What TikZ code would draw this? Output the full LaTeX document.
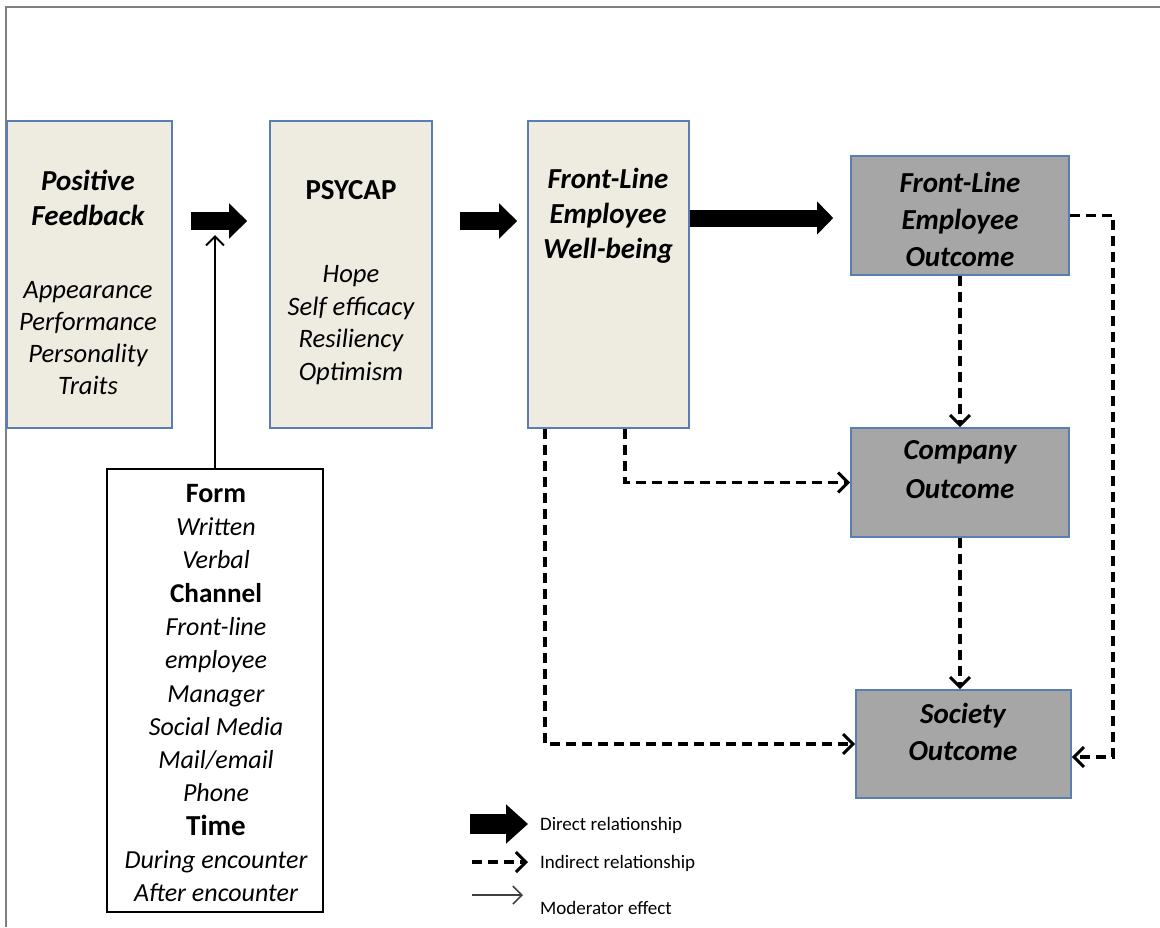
\documentclass[tikz,border=0pt]{standalone}
\usepackage{fontspec}
\setmainfont{Carlito}
\usetikzlibrary{arrows.meta,fit,calc}
\definecolor{boxfill}{HTML}{EEECE1}
\definecolor{boxline}{HTML}{5A7EB4}
\definecolor{outfill}{HTML}{A6A6A6}

\begin{document}
\begin{tikzpicture}[x=0.5pt,y=-0.5pt,
  inbox/.style={draw=boxline,fill=boxfill,line width=0.8pt,inner sep=0pt},
  outbox/.style={draw=boxline,fill=outfill,line width=0.8pt,inner sep=0pt},
  title/.style={align=center,font=\fontsize{14.5}{17.5}\selectfont\bfseries\itshape},
  items/.style={align=center,font=\fontsize{13.3}{16}\selectfont\itshape},
  direct/.style={line width=9pt,-{Triangle[width=17pt,length=9pt]}},
  indirect/.style={line width=1.8pt,dash pattern=on 5pt off 3pt,-{Straight Barb[length=5pt,width=10pt,line width=1.5pt]}},
  moder/.style={line width=1pt,-{Straight Barb[length=4.5pt,width=9pt]}},
  legend/.style={anchor=west,font=\fontsize{9.5}{11}\selectfont}]
\useasboundingbox (0,0) rectangle (1160,927);

% frame
\draw[gray,line width=0.6pt] (1160,7) -- (6,7) -- (6,927);

% boxes
\node[inbox,fit={(7,121) (172,428)}] (feedback) {};
\node[inbox,fit={(270,121) (432,428)}] (psycap) {};
\node[inbox,fit={(528,121) (689,428)}] (wellbeing) {};
\node[outbox,fit={(851,156) (1069,275)}] (empout) {};
\node[outbox,fit={(851,428) (1069,537)}] (compout) {};
\node[outbox,fit={(856,690) (1071,798)}] (socout) {};
\node[draw,line width=1pt,fit={(107,469) (323,912)},inner sep=0pt] (moderator) {};

% texts
\node[title] (fbtitle) at (88,198) {Positive\\Feedback};
\node[items] (fbitems) at (88,338) {Appearance\\Performance\\Personality\\Traits};
\node[font=\fontsize{14.5}{17.5}\selectfont\bfseries] (pctitle) at (351,190) {PSYCAP};
\node[items,font=\fontsize{13.3}{16.2}\selectfont\itshape] (pcitems) at (351,325) {Hope\\Self efficacy\\Resiliency\\Optimism};
\node[title] (wbtitle) at (608,216) {Front-Line\\Employee\\Well-being};
\node[title,font=\fontsize{14.5}{18.5}\selectfont\bfseries\itshape] (eotitle) at (960,219) {Front-Line\\Employee\\Outcome};
\node[title,font=\fontsize{14.5}{19.5}\selectfont\bfseries\itshape] (cotitle) at (960,470) {Company\\Outcome};
\node[title,font=\fontsize{14.5}{18.5}\selectfont\bfseries\itshape] (sotitle) at (963,732) {Society\\Outcome};
\node[align=center,font=\fontsize{13}{16.65}\selectfont\itshape] (modtext) at (216,693)
  {{\fontsize{14}{16.65}\selectfont\bfseries\upshape Form}\\Written\\Verbal\\
   {\fontsize{13.6}{16.65}\selectfont\bfseries\upshape Channel}\\Front-line\\employee\\Manager\\Social Media\\Mail/email\\Phone\\
   {\fontsize{14.5}{16.65}\selectfont\bfseries\upshape Time}\\During encounter\\After encounter};

% direct relationships
\coordinate (lvl) at (0,221);
\draw[direct,shorten <=9pt,shorten >=11pt] (feedback.east |- lvl) -- (psycap.west |- lvl);
\draw[direct,shorten <=13.5pt,shorten >=5pt] (psycap.east |- lvl) -- (wellbeing.west |- lvl);
\coordinate (lvl2) at (0,218);
\draw[direct,line width=8.5pt,-{Triangle[width=16pt,length=8pt]},shorten >=8.5pt] (wellbeing.east |- lvl2) -- (empout.west |- lvl2);

% moderator
\coordinate (modtip) at (216,235);
\draw[moder] (moderator.north) -- (moderator.north |- modtip);

% indirect relationships
\draw[indirect] ($(wellbeing.south west)+(18,0)$) |- (socout.west);
\draw[indirect] ($(wellbeing.south west)+(98,0)$) |- (compout.west);
\draw[indirect] (empout.south) -- (compout.north);
\draw[indirect] (compout.south) -- (socout.north -| compout.south);
\coordinate (rail) at (1113,0);
\draw[indirect] (empout.east) -- (empout.east -| rail) |- ($(socout.east)+(0,13)$);

% legend
\coordinate (l1a) at (470,824);
\coordinate (l1b) at (528,824);
\draw[direct,line width=10pt,-{Triangle[width=19pt,length=11pt]}] (l1a) -- (l1b);
\node[legend] (ldirect) at (533,825) {Direct relationship};
\coordinate (l2a) at (472,862);
\coordinate (l2b) at (528,862);
\draw[indirect] (l2a) -- (l2b);
\node[legend] (lindirect) at (533,863) {Indirect relationship};
\coordinate (l3a) at (472,895);
\coordinate (l3b) at (523,895);
\draw[moder,line width=0.8pt,black!75] (l3a) -- (l3b);
\node[legend] (lmoder) at (533,908) {Moderator effect};

\end{tikzpicture}
\end{document}
